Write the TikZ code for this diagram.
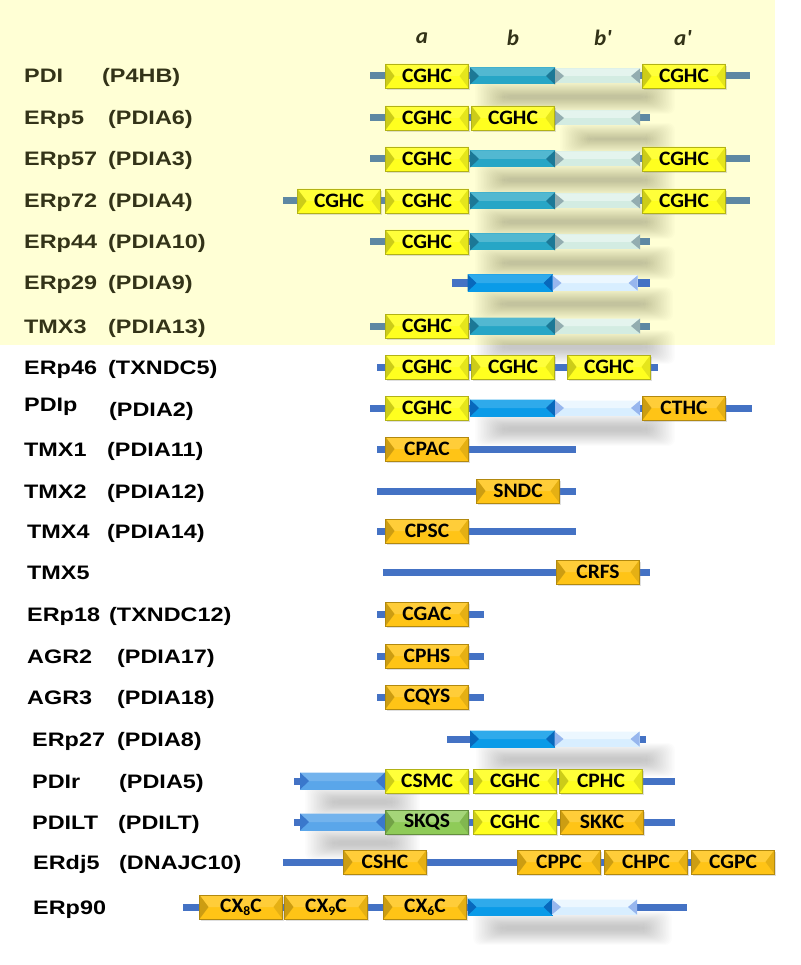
\documentclass[tikz,border=0pt]{standalone}
\usepackage{fontspec}
\newfontfamily\namefont[FakeStretch=1.2]{Liberation Sans}
\newfontfamily\motiffont[FakeStretch=1.05]{Carlito}

\definecolor{pdibg}{HTML}{FFFFD5}
\definecolor{oldtext}{HTML}{333318}
\definecolor{oldline}{HTML}{5E88A3}
\definecolor{newline}{HTML}{4472C4}
\definecolor{tealb}{HTML}{27A6C6}
\definecolor{tealdk}{HTML}{1C7896}
\definecolor{paleg}{HTML}{D3ECE2}
\definecolor{palegdk}{HTML}{93ADB0}
\definecolor{blueb}{HTML}{0A9BE8}
\definecolor{bluedk}{HTML}{0868BC}
\definecolor{paleb}{HTML}{D8EEFF}
\definecolor{palebdk}{HTML}{97B6EE}
\definecolor{nterm}{HTML}{5AA6EA}
\definecolor{ntermdk}{HTML}{3A78CC}
\definecolor{cyel}{HTML}{FFFF1F}
\definecolor{cora}{HTML}{FFC416}
\definecolor{cgrn}{HTML}{8FCB58}

\usetikzlibrary{shadows}
\tikzset{
  bevel/.style n args={4}{fill=#1, path picture={
    \fill[#2] (path picture bounding box.north west) -- (path picture bounding box.north east)
      -- ([xshift=-9pt]path picture bounding box.east) -- ([xshift=9pt]path picture bounding box.west) -- cycle;
    \fill[#3] (path picture bounding box.north west) -- ([xshift=9pt]path picture bounding box.west)
      -- (path picture bounding box.south west) -- cycle;
    \fill[#4] (path picture bounding box.north east) -- ([xshift=-9pt]path picture bounding box.east)
      -- (path picture bounding box.south east) -- cycle;
  }},
  protold/.style={anchor=base west, inner sep=0pt, text=oldtext,
    font=\namefont\bfseries\fontsize{19.5}{20}\selectfont},
  protnew/.style={protold, text=black},
  hdr/.style={text=oldtext, font=\motiffont\bfseries\itshape\fontsize{22}{22}\selectfont},
  chainold/.style={line width=7pt, draw=oldline},
  chainnew/.style={line width=7pt, draw=newline},
  fold/.style={minimum width=85pt, minimum height=17pt, inner sep=0pt},
  foldold/.style={fold, bevel={tealb}{tealb!80!white}{tealdk}{tealdk}},
  foldoldp/.style={fold, minimum height=15pt, bevel={paleg}{paleg!60!white}{palegdk}{palegdk}},
  foldnew/.style={fold, bevel={blueb}{blueb!85!white}{bluedk}{bluedk}},
  foldnewp/.style={fold, minimum height=15pt, bevel={paleb}{paleb!50!white}{palebdk}{palebdk}},
  foldnt/.style={fold, bevel={nterm}{nterm!85!white}{ntermdk}{ntermdk}},
  motif/.style={minimum width=83pt, minimum height=24pt, inner sep=0pt, line width=0.5pt,
    font=\motiffont\bfseries\fontsize{20.5}{20.5}\selectfont,
    drop shadow={shadow xshift=1.5pt, shadow yshift=-2pt, opacity=0.25}},
  cyelbox/.style={motif, draw=cyel!70!black, bevel={cyel}{cyel!88!white}{cyel!80!black}{cyel!90!black}},
  corabox/.style={motif, draw=cora!70!black, bevel={cora}{cora!85!white}{cora!80!black}{cora!90!black}},
  cgrnbox/.style={motif, draw=cgrn!70!black, bevel={cgrn}{cgrn!80!white}{cgrn!80!black}{cgrn!90!black}},
  haze/.style={fill=black, opacity=0.013, rounded corners=7pt},
}
\newcommand{\subx}[1]{\raisebox{-3pt}{\fontsize{13}{13}\selectfont #1}}
% soft shadow beneath a run of folds: left, top, right, bottom
\newcommand{\foldshade}[4]{%
  \foreach \k in {0,...,19}{
    \fill[haze] (#1+5+\k*1.5, #2+12+\k*0.8) rectangle (#3+35-\k*1.5, #4+30-\k*0.8);
  }}

\begin{document}
\begin{tikzpicture}[x=1pt,y=-1pt]
\useasboundingbox (0,0) rectangle (800,965);
\fill[pdibg] (0,0) rectangle (775,345);

% domain names
\node[hdr] (ha) at (422,38) {a};
\node[hdr] (hb) at (513,38) {b};
\node[hdr] (hbb) at (603,38) {b'};
\node[hdr] (haa) at (683,38) {a'};

% PDI
\node[protold] (n1) at (24,83) {PDI};
\node[protold] (g1) at (102,83) {(P4HB)};
\draw[chainold] (370,76) -- (750,76);
\foldshade{470}{68}{640}{84}
\node[foldold] (b1) at (512.5,76) {};
\node[foldoldp] (p1) at (597.5,76) {};
\node[cyelbox] (a1) at (427,76) {CGHC};
\node[cyelbox] (e1) at (684,76) {CGHC};

% ERp5
\node[protold] (n2) at (24,125) {ERp5};
\node[protold] (g2) at (108,125) {(PDIA6)};
\draw[chainold] (370,118) -- (650,118);
\foldshade{555}{111}{640}{125}
\node[foldoldp] (p2) at (597.5,118) {};
\node[cyelbox] (a2) at (427,118) {CGHC};
\node[cyelbox] (b2) at (513,118) {CGHC};

% ERp57
\node[protold] (n3) at (24,166) {ERp57};
\node[protold] (g3) at (108,166) {(PDIA3)};
\draw[chainold] (370,159) -- (750,159);
\foldshade{470}{151}{640}{167}
\node[foldold] (b3) at (512.5,159) {};
\node[foldoldp] (p3) at (597.5,159) {};
\node[cyelbox] (a3) at (427,159) {CGHC};
\node[cyelbox] (e3) at (684,159) {CGHC};

% ERp72
\node[protold] (n4) at (24,208) {ERp72};
\node[protold] (g4) at (108,208) {(PDIA4)};
\draw[chainold] (283,201) -- (750,201);
\foldshade{470}{193}{640}{209}
\node[foldold] (b4) at (512.5,201) {};
\node[foldoldp] (p4) at (597.5,201) {};
\node[cyelbox] (c4) at (339,201) {CGHC};
\node[cyelbox] (a4) at (427,201) {CGHC};
\node[cyelbox] (e4) at (684,201) {CGHC};

% ERp44
\node[protold] (n5) at (24,249) {ERp44};
\node[protold] (g5) at (108,249) {(PDIA10)};
\draw[chainold] (370,242) -- (650,242);
\foldshade{470}{234}{640}{250}
\node[foldold] (b5) at (512.5,242) {};
\node[foldoldp] (p5) at (597.5,242) {};
\node[cyelbox] (a5) at (427,242) {CGHC};

% ERp29
\node[protold] (n6) at (24,290) {ERp29};
\node[protold] (g6) at (108,290) {(PDIA9)};
\draw[chainnew] (452,283) -- (650,283);
\foldshade{468}{275}{638}{291}
\node[foldnew] (b6) at (510,283) {};
\node[foldnewp] (p6) at (595,283) {};

% TMX3
\node[protold] (n7) at (24,333) {TMX3};
\node[protold] (g7) at (108,333) {(PDIA13)};
\draw[chainold] (370,326) -- (650,326);
\foldshade{470}{318}{640}{334}
\node[foldold] (b7) at (512.5,326) {};
\node[foldoldp] (p7) at (597.5,326) {};
\node[cyelbox] (a7) at (427,326) {CGHC};

% ERp46
\node[protnew] (n8) at (24,374) {ERp46};
\node[protnew] (g8) at (108,374) {(TXNDC5)};
\draw[chainnew] (377,367) -- (658,367);
\node[cyelbox] (a8) at (427,367) {CGHC};
\node[cyelbox] (b8) at (513,367) {CGHC};
\node[cyelbox] (c8) at (609,367) {CGHC};

% PDIp
\node[protnew] (n9) at (24,411) {PDIp};
\node[protnew] (g9) at (109,416) {(PDIA2)};
\draw[chainnew] (370,408) -- (752,408);
\foldshade{470}{400}{640}{416}
\node[foldnew] (b9) at (512.5,408) {};
\node[foldnewp] (p9) at (597.5,408) {};
\node[cyelbox] (a9) at (427,408) {CGHC};
\node[corabox] (e9) at (684,408) {CTHC};

% TMX1
\node[protnew] (n10) at (24,456) {TMX1};
\node[protnew] (g10) at (107,456) {(PDIA11)};
\draw[chainnew] (377,449) -- (576,449);
\node[corabox] (a10) at (427,449) {CPAC};

% TMX2
\node[protnew] (n11) at (24,498) {TMX2};
\node[protnew] (g11) at (107,498) {(PDIA12)};
\draw[chainnew] (377,491) -- (576,491);
\node[corabox] (a11) at (518,491) {SNDC};

% TMX4
\node[protnew] (n12) at (27,538) {TMX4};
\node[protnew] (g12) at (107,538) {(PDIA14)};
\draw[chainnew] (377,531) -- (576,531);
\node[corabox] (a12) at (427,531) {CPSC};

% TMX5
\node[protnew] (n13) at (27,579) {TMX5};
\draw[chainnew] (383,572) -- (650,572);
\node[corabox] (a13) at (598,572) {CRFS};

% ERp18
\node[protnew] (n14) at (27,621) {ERp18};
\node[protnew] (g14) at (109,621) {(TXNDC12)};
\draw[chainnew] (377,614) -- (484,614);
\node[corabox] (a14) at (427,614) {CGAC};

% AGR2
\node[protnew] (n15) at (27,663) {AGR2};
\node[protnew] (g15) at (117,663) {(PDIA17)};
\draw[chainnew] (377,656) -- (484,656);
\node[corabox] (a15) at (427,656) {CPHS};

% AGR3
\node[protnew] (n16) at (27,704) {AGR3};
\node[protnew] (g16) at (117,704) {(PDIA18)};
\draw[chainnew] (377,697) -- (484,697);
\node[corabox] (a16) at (427,697) {CQYS};

% ERp27
\node[protnew] (n17) at (32,746) {ERp27};
\node[protnew] (g17) at (117,746) {(PDIA8)};
\draw[chainnew] (447,739) -- (646,739);
\foldshade{471}{731}{640}{747}
\node[foldnew] (b17) at (512.5,739) {};
\node[foldnewp] (p17) at (597,739) {};

% PDIr
\node[protnew] (n18) at (32,788) {PDIr};
\node[protnew] (g18) at (119,788) {(PDIA5)};
\draw[chainnew] (294,781) -- (675,781);
\foldshade{300}{773}{385}{789}
\node[foldnt] (t18) at (342.5,781) {};
\node[cyelbox] (a18) at (427,781) {CSMC};
\node[cyelbox] (b18) at (515,781) {CGHC};
\node[cyelbox] (c18) at (601,781) {CPHC};

% PDILT
\node[protnew] (n19) at (32,829) {PDILT};
\node[protnew] (g19) at (118,829) {(PDILT)};
\draw[chainnew] (294,822) -- (675,822);
\foldshade{300}{814}{385}{830}
\node[foldnt] (t19) at (342.5,822) {};
\node[cgrnbox] (a19) at (427,822) {SKQS};
\node[cyelbox] (b19) at (515,822) {CGHC};
\node[corabox] (c19) at (602,822) {SKKC};

% ERdj5
\node[protnew] (n20) at (33,869) {ERdj5};
\node[protnew] (g20) at (119,869) {(DNAJC10)};
\draw[chainnew] (283,862) -- (700,862);
\node[corabox] (a20) at (385,862) {CSHC};
\node[corabox] (b20) at (559,862) {CPPC};
\node[corabox] (c20) at (646,862) {CHPC};
\node[corabox] (d20) at (733,862) {CGPC};

% ERp90
\node[protnew] (n21) at (33,914) {ERp90};
\draw[chainnew] (183,907) -- (687,907);
\foldshade{468}{899}{637}{915}
\node[foldnew] (b21) at (510,907) {};
\node[foldnewp] (p21) at (594.5,907) {};
\node[corabox] (a21) at (241,907) {CX\subx{8}C};
\node[corabox] (b21x) at (326,907) {CX\subx{9}C};
\node[corabox] (c21) at (425,907) {CX\subx{6}C};
\end{tikzpicture}
\end{document}
